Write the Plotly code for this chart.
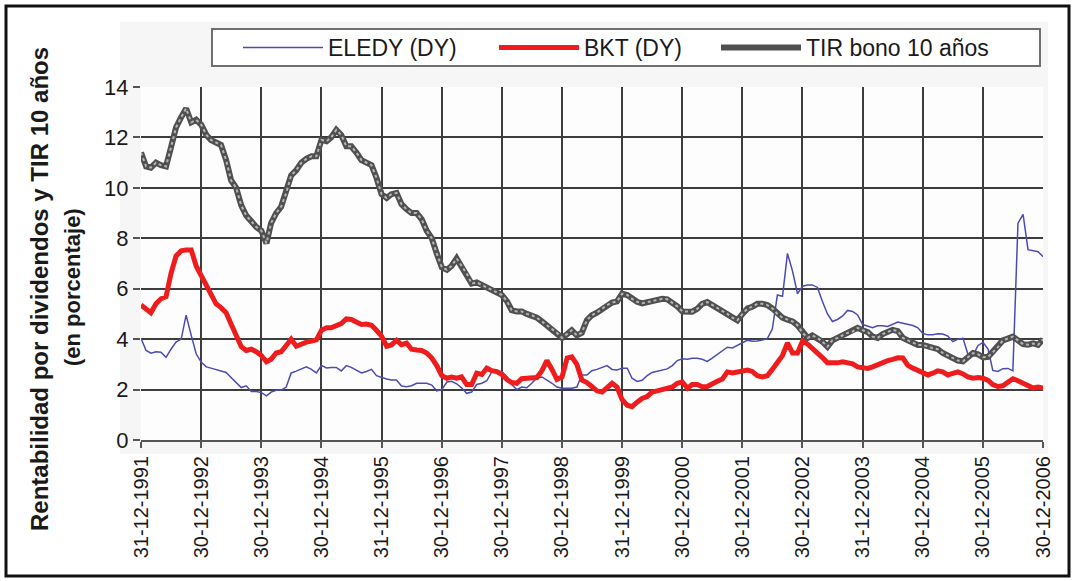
import pandas as pd
import plotly.graph_objects as go

# ---------------- data (monthly readings, Dec-1991 .. Dec-2006) ----------------
start_date = "1991-12-31"
n_points = 181

eledy = [4.03, 3.55, 3.44, 3.5, 3.48, 3.28, 3.6, 3.88, 4.0, 4.95, 4.15, 3.42, 3.08, 2.9, 2.85, 2.8,
         2.76, 2.68, 2.48, 2.28, 2.08, 2.15, 1.92, 1.92, 1.88, 1.75, 1.9, 1.97, 1.98, 2.1, 2.66, 2.73,
         2.83, 2.9, 2.8, 2.66, 2.96, 2.86, 2.88, 2.88, 2.74, 2.95, 2.88, 2.76, 2.66, 2.72, 2.8, 2.55,
         2.47, 2.42, 2.38, 2.38, 2.14, 2.11, 2.15, 2.25, 2.25, 2.25, 2.18, 1.95, 2.0, 2.3, 2.33, 2.23,
         2.07, 1.85, 1.9, 2.2, 2.25, 2.35, 2.71, 2.75, 2.71, 2.5, 2.2, 2.0, 2.1, 2.07, 2.25, 2.46,
         2.5, 2.38, 2.25, 2.1, 2.05, 2.05, 2.05, 2.1, 2.58, 2.58, 2.75, 2.8, 2.88, 2.95, 2.8, 2.78,
         2.85, 2.85, 2.45, 2.32, 2.37, 2.55, 2.68, 2.72, 2.77, 2.82, 2.95, 3.15, 3.22, 3.2, 3.24, 3.24,
         3.2, 3.12, 3.25, 3.4, 3.53, 3.68, 3.65, 3.75, 3.86, 3.96, 3.92, 3.93, 3.97, 4.02, 4.4, 5.75,
         5.7, 7.4, 6.7, 5.8, 6.1, 6.15, 6.15, 6.05, 5.5, 5.0, 4.7, 4.78, 4.92, 5.14, 5.1, 4.96,
         4.58, 4.5, 4.45, 4.53, 4.53, 4.5, 4.6, 4.68, 4.63, 4.58, 4.54, 4.45, 4.22, 4.17, 4.17, 4.21,
         4.2, 4.12, 3.9, 4.0, 4.03, 3.4, 3.35, 3.75, 3.87, 3.6, 2.76, 2.72, 2.83, 2.84, 2.74, 8.6,
         8.95, 7.55, 7.5, 7.47, 7.27]

bkt = [5.35, 5.22, 5.05, 5.4, 5.6, 5.68, 6.6, 7.3, 7.5, 7.54, 7.54, 6.9, 6.5, 6.15, 5.7, 5.4,
       5.25, 5.05, 4.6, 4.1, 3.7, 3.55, 3.6, 3.5, 3.35, 3.1, 3.2, 3.45, 3.5, 3.75, 4.0, 3.72,
       3.82, 3.88, 3.92, 3.97, 4.35, 4.45, 4.45, 4.56, 4.62, 4.8, 4.78, 4.68, 4.58, 4.6, 4.55, 4.35,
       4.12, 3.72, 3.77, 3.95, 3.78, 3.84, 3.6, 3.57, 3.55, 3.45, 3.25, 2.95, 2.55, 2.45, 2.5, 2.45,
       2.5, 2.2, 2.2, 2.65, 2.6, 2.85, 2.75, 2.71, 2.6, 2.4, 2.28, 2.25, 2.43, 2.45, 2.45, 2.48,
       2.75, 3.15, 2.8, 2.4, 2.5, 3.25, 3.3, 3.0, 2.38, 2.28, 2.12, 1.95, 1.9, 2.05, 2.25, 2.1,
       1.6, 1.38, 1.32, 1.5, 1.65, 1.72, 1.9, 1.95, 2.0, 2.05, 2.1, 2.25, 2.3, 2.05, 2.2, 2.2,
       2.11, 2.12, 2.24, 2.33, 2.42, 2.7, 2.66, 2.69, 2.74, 2.77, 2.72, 2.55, 2.5, 2.55, 2.8, 3.12,
       3.35, 3.85, 3.45, 3.45, 3.93, 3.8, 3.65, 3.47, 3.27, 3.06, 3.04, 3.06, 3.1, 3.07, 3.02, 2.9,
       2.85, 2.84, 2.9, 3.0, 3.1, 3.15, 3.2, 3.26, 3.25, 2.96, 2.85, 2.75, 2.65, 2.58, 2.65, 2.74,
       2.7, 2.58, 2.64, 2.7, 2.62, 2.5, 2.45, 2.48, 2.45, 2.36, 2.2, 2.12, 2.15, 2.27, 2.43, 2.35,
       2.25, 2.16, 2.06, 2.1, 2.06]

tir = [11.4, 10.85, 10.8, 11.0, 10.9, 10.85, 11.6, 12.4, 12.8, 13.15, 12.6, 12.7, 12.5, 12.1, 11.9, 11.8,
       11.7, 11.1, 10.3, 10.0, 9.3, 8.9, 8.65, 8.45, 8.3, 7.8, 8.6, 9.0, 9.25, 9.8, 10.5, 10.7,
       11.0, 11.15, 11.25, 11.25, 11.9, 11.85, 12.0, 12.3, 12.1, 11.65, 11.65, 11.4, 11.1, 11.0, 10.9, 10.4,
       9.75, 9.6, 9.75, 9.8, 9.35, 9.15, 9.0, 9.0, 8.75, 8.3, 8.0, 7.4, 6.85, 6.75, 6.9, 7.2,
       6.9, 6.6, 6.2, 6.25, 6.15, 6.05, 5.95, 5.85, 5.75, 5.5, 5.15, 5.1, 5.1, 5.0, 4.95, 4.85,
       4.7, 4.55, 4.4, 4.25, 4.05, 4.2, 4.35, 4.15, 4.25, 4.75, 4.95, 5.05, 5.2, 5.35, 5.45, 5.5,
       5.8, 5.75, 5.6, 5.48, 5.42, 5.47, 5.52, 5.56, 5.6, 5.58, 5.45, 5.3, 5.1, 5.08, 5.09, 5.2,
       5.4, 5.47, 5.36, 5.22, 5.1, 5.0, 4.85, 4.75, 5.0, 5.22, 5.28, 5.4, 5.4, 5.35, 5.22, 5.0,
       4.85, 4.77, 4.7, 4.55, 4.25, 4.05, 4.15, 4.05, 3.9, 3.7, 3.95, 4.05, 4.15, 4.25, 4.3, 4.45,
       4.35, 4.28, 4.1, 4.05, 4.2, 4.3, 4.37, 4.32, 4.05, 3.95, 3.85, 3.77, 3.77, 3.7, 3.64, 3.6,
       3.45, 3.35, 3.25, 3.15, 3.12, 3.3, 3.45, 3.4, 3.28, 3.3, 3.5, 3.68, 3.95, 4.02, 4.1, 3.95,
       3.8, 3.78, 3.83, 3.77, 4.0]

tick_dates = ["1991-12-31", "1992-12-30", "1993-12-30", "1994-12-30", "1995-12-31", "1996-12-30",
              "1997-12-30", "1998-12-30", "1999-12-31", "2000-12-30", "2001-12-30", "2002-12-30",
              "2003-12-31", "2004-12-30", "2005-12-30", "2006-12-30"]
tick_labels = ["31-12-1991", "30-12-1992", "30-12-1993", "30-12-1994", "31-12-1995", "30-12-1996",
               "30-12-1997", "30-12-1998", "31-12-1999", "30-12-2000", "30-12-2001", "30-12-2002",
               "31-12-2003", "30-12-2004", "30-12-2005", "30-12-2006"]
y_ticks = [0, 2, 4, 6, 8, 10, 12, 14]

names = ["ELEDY (DY)", "BKT (DY)", "TIR bono 10 años"]
y_title_1 = "Rentabilidad por dividendos y TIR 10 años"
y_title_2 = "(en porcentaje)"

dates = pd.date_range(start_date, periods=n_points, freq=pd.offsets.MonthEnd())

# ---------------- layout geometry ----------------
W, H = 1075, 581
L, R, T, B = 141, 32, 87, 141
PW, PH = W - L - R, H - T - B


def px_x(px):
    return (px - L) / PW


def px_y(py):
    return (H - B - py) / PH


FONT = "Liberation Sans, Arial, sans-serif"
GRID = "#3d3d3d"

fig = go.Figure()
fig.add_trace(go.Scatter(x=dates, y=eledy, name=names[0], mode="lines", legend="legend",
                         line=dict(color="#4b4bb3", width=1.5)))
fig.add_trace(go.Scatter(x=dates, y=bkt, name=names[1], mode="lines", legend="legend2",
                         line=dict(color="#ee1c1c", width=5)))
fig.add_trace(go.Scatter(x=dates, y=tir, name=names[2], mode="lines", legend="legend3",
                         legendgroup="tir", line=dict(color="#505050", width=6)))
fig.add_trace(go.Scatter(x=dates, y=tir, name=names[2], mode="lines", legend="legend3",
                         legendgroup="tir", showlegend=False, hoverinfo="skip",
                         line=dict(color="#b5b5b5", width=2, dash="dot")))

shapes = [
    # faint grey chart area
    dict(type="rect", xref="paper", yref="paper", layer="below",
         x0=px_x(120), x1=px_x(1048), y0=px_y(454), y1=px_y(22),
         fillcolor="#f6f6f6", line=dict(width=0)),
    # white plot area
    dict(type="rect", xref="paper", yref="paper", layer="below",
         x0=0, x1=1, y0=0, y1=1, fillcolor="#fdfdfd", line=dict(width=0)),
    # legend frame
    dict(type="rect", xref="paper", yref="paper", layer="below",
         x0=px_x(212), x1=px_x(1040), y0=px_y(66), y1=px_y(29),
         fillcolor="white", line=dict(color="#707070", width=2)),
    # outer black frame
    dict(type="rect", xref="paper", yref="paper", layer="above",
         x0=px_x(6), x1=px_x(1069), y0=px_y(576), y1=px_y(6),
         fillcolor="rgba(0,0,0,0)", line=dict(color="#111111", width=3)),
]

annotations = [
    dict(text=y_title_1, xref="paper", yref="paper", x=px_x(39), y=px_y(289),
         xanchor="center", yanchor="middle", textangle=-90, showarrow=False,
         font=dict(family=FONT, size=24, color="#1a1a1a", weight="bold")),
    dict(text=y_title_2, xref="paper", yref="paper", x=px_x(72), y=px_y(287),
         xanchor="center", yanchor="middle", textangle=-90, showarrow=False,
         font=dict(family=FONT, size=22, color="#1a1a1a", weight="bold")),
]


def legend_at(px_left):
    return dict(orientation="h", x=px_x(px_left), y=px_y(26), xanchor="left", yanchor="top",
                font=dict(family=FONT, size=23, color="#1a1a1a"), itemwidth=80,
                bgcolor="rgba(0,0,0,0)", borderwidth=0)


fig.update_layout(
    width=W, height=H,
    margin=dict(l=L, r=R, t=T, b=B, autoexpand=False),
    paper_bgcolor="white", plot_bgcolor="#fdfdfd",
    font=dict(family=FONT, color="#1a1a1a"),
    showlegend=True,
    legend=legend_at(238),
    legend2=legend_at(494),
    legend3=legend_at(716),
    shapes=shapes,
    annotations=annotations,
)

fig.update_xaxes(
    type="date", range=[tick_dates[0], tick_dates[-1]],
    tickmode="array", tickvals=tick_dates, ticktext=tick_labels, tickangle=-90,
    tickfont=dict(family=FONT, size=20, color="#1a1a1a"),
    ticks="outside", ticklen=6, tickwidth=2, tickcolor="#555555",
    showgrid=True, gridcolor=GRID, gridwidth=2,
    showline=True, linecolor="#555555", linewidth=2, zeroline=False,
)
fig.update_yaxes(
    range=[0, 14], tickmode="array", tickvals=y_ticks,
    tickfont=dict(family=FONT, size=22, color="#1a1a1a"),
    ticks="outside", ticklen=7, tickwidth=2, tickcolor="#555555",
    showgrid=True, gridcolor=GRID, gridwidth=2,
    showline=False, zeroline=False,
)

fig.write_html("out.html", config={"displayModeBar": False},
               post_script="document.body.style.margin='0px';document.body.style.padding='0px';")
